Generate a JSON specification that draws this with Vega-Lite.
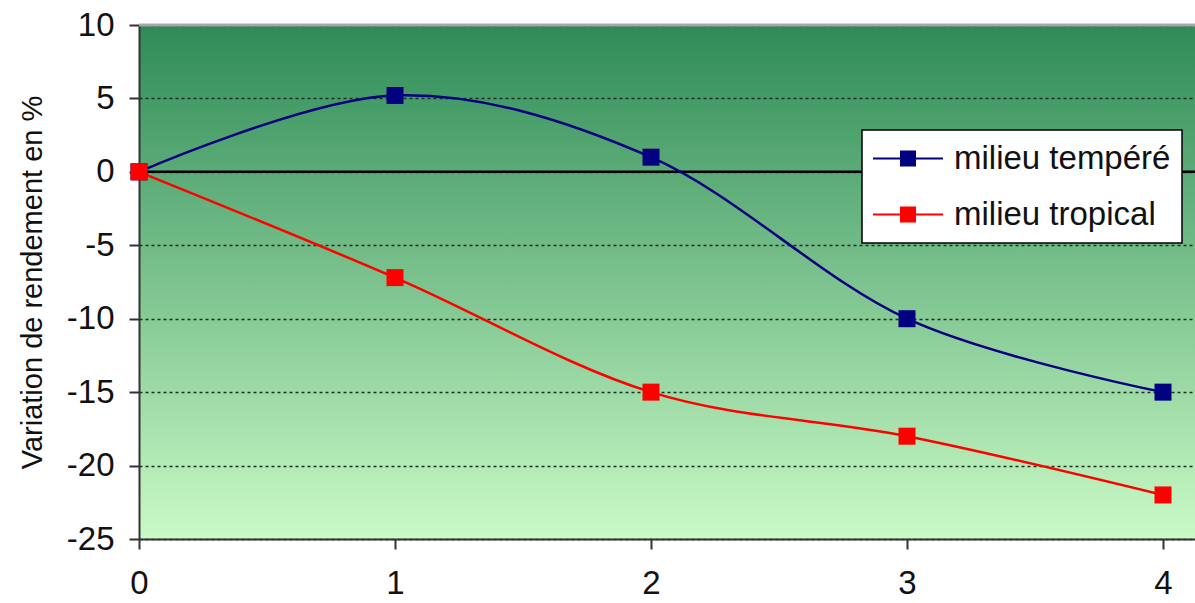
{
  "$schema": "https://vega.github.io/schema/vega-lite/v6.json",
  "width": 1056,
  "height": 514,
  "autosize": {"type": "none"},
  "padding": {"left": 139, "top": 25, "right": 0, "bottom": 64},
  "background": "white",
  "config": {
    "font": "Liberation Sans",
    "view": {
      "fill": {
        "gradient": "linear",
        "x1": 0, "y1": 0, "x2": 0, "y2": 1,
        "stops": [
          {"offset": 0, "color": "#2e8b57"},
          {"offset": 1, "color": "#cafac6"}
        ]
      },
      "stroke": null
    },
    "legend": {"strokeWidth": 1.5}
  },
  "data": {
    "values": [
      {"t": 0, "milieu": "milieu tempéré", "variation": 0},
      {"t": 1, "milieu": "milieu tempéré", "variation": 5.2},
      {"t": 2, "milieu": "milieu tempéré", "variation": 1},
      {"t": 3, "milieu": "milieu tempéré", "variation": -10},
      {"t": 4, "milieu": "milieu tempéré", "variation": -15},
      {"t": 0, "milieu": "milieu tropical", "variation": 0},
      {"t": 1, "milieu": "milieu tropical", "variation": -7.2},
      {"t": 2, "milieu": "milieu tropical", "variation": -15},
      {"t": 3, "milieu": "milieu tropical", "variation": -18},
      {"t": 4, "milieu": "milieu tropical", "variation": -22}
    ]
  },
  "encoding": {
    "x": {
      "field": "t",
      "type": "quantitative",
      "scale": {"domain": [0, 4.125], "nice": false, "zero": false},
      "axis": {
        "values": [0, 1, 2, 3, 4],
        "grid": false,
        "title": null,
        "labelExpr": "'' + datum.value",
        "labelFlush": false,
        "labelFontSize": 33,
        "labelColor": "#111111",
        "labelPadding": 18,
        "tickSize": 10,
        "tickColor": "#333333",
        "tickWidth": 2,
        "domainColor": "#333333",
        "domainWidth": 2
      }
    },
    "y": {
      "field": "variation",
      "type": "quantitative",
      "scale": {"domain": [-25, 10], "nice": false},
      "axis": {
        "values": [-25, -20, -15, -10, -5, 0, 5, 10],
        "labelExpr": "'' + datum.value",
        "labelFlush": false,
        "labelFontSize": 33,
        "labelColor": "#111111",
        "labelPadding": 15,
        "tickSize": 10,
        "tickColor": "#333333",
        "tickWidth": 2,
        "domainColor": "#333333",
        "domainWidth": 2,
        "grid": true,
        "gridColor": "#1e2e22",
        "gridDash": [3, 3],
        "gridWidth": 1.5,
        "title": "Variation de rendement en %",
        "titleFontSize": 29,
        "titleFontWeight": "normal",
        "titleColor": "#111111",
        "titlePadding": 19
      }
    },
    "color": {
      "field": "milieu",
      "type": "nominal",
      "scale": {"domain": ["milieu tempéré", "milieu tropical"], "range": ["#000080", "#ff0000"]},
      "legend": {
        "orient": "none",
        "legendX": 723,
        "legendY": 105,
        "title": null,
        "symbolType": "M-1,-0.06H0.543V-0.457H1.457V-0.06H3V0.06H1.457V0.457H0.543V0.06H-1Z",
        "symbolSize": 1225,
        "symbolStrokeWidth": 0,
        "symbolOpacity": 1,
        "labelFontSize": 33,
        "labelColor": "#111111",
        "labelOffset": 46,
        "labelLimit": 400,
        "rowPadding": 21,
        "padding": 11,
        "fillColor": "white",
        "strokeColor": "black"
      }
    }
  },
  "layer": [
    {
      "data": {"values": [{"bord": 10}]},
      "mark": {"type": "rule", "color": "#a8a8a8", "strokeWidth": 3},
      "encoding": {"y": {"field": "bord", "type": "quantitative"}, "x": null, "color": null}
    },
    {
      "data": {"values": [{"zero": 0}]},
      "mark": {"type": "rule", "color": "#000000", "strokeWidth": 2.5},
      "encoding": {"y": {"field": "zero", "type": "quantitative"}, "x": null, "color": null}
    },
    {
      "mark": {"type": "line", "interpolate": "cardinal", "strokeWidth": 2.5}
    },
    {
      "mark": {"type": "point", "shape": "square", "filled": true, "size": 289, "opacity": 1}
    }
  ]
}
